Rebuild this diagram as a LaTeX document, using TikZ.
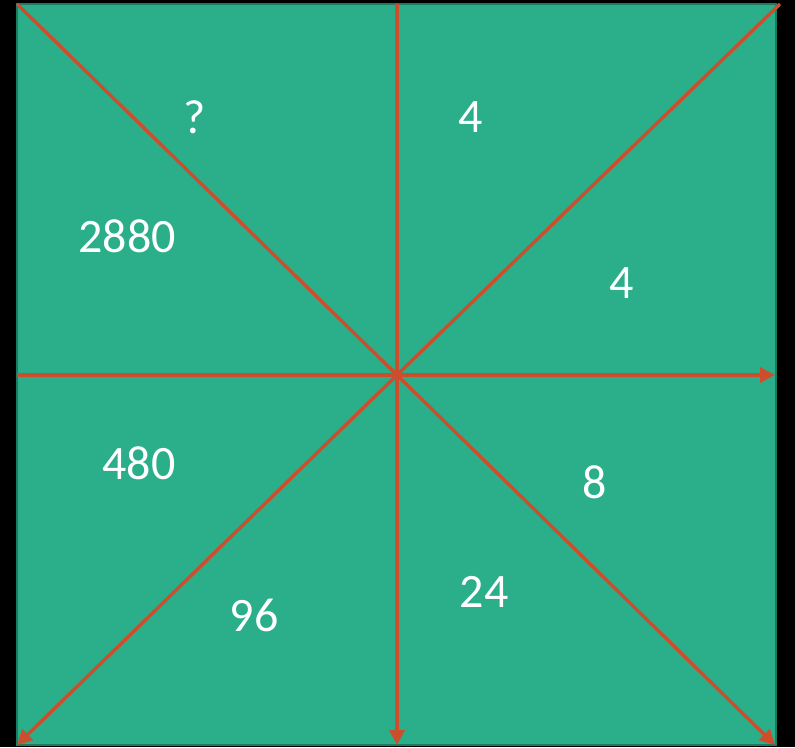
\documentclass[tikz,border=0pt]{standalone}
\usepackage{fontspec}
\setmainfont{Carlito}
\usetikzlibrary{arrows.meta}
\definecolor{boardgreen}{HTML}{2BAE8A}
\definecolor{boardedge}{HTML}{1F7A62}
\definecolor{spokered}{HTML}{CC4E2C}

\begin{document}
\begin{tikzpicture}[
  x=1pt,
  y=-1pt,
  every node/.style={font=\fontsize{48}{54}\selectfont, white},
  board/.style={fill=boardgreen, draw=boardedge, line width=1.2pt},
  spoke/.style={spokered, line width=3.4pt},
  arrowspoke/.style={spoke, -{Triangle[length=15pt, width=15pt]}}
]
  % ---- page and board --------------------------------------------------
  \fill[black] (0,0) rectangle (795,747);
  \useasboundingbox (0,0) rectangle (795,747);
  \draw[board] (17,4) rectangle (776,745);

  % ---- hub and spoke ends ----------------------------------------------
  \coordinate (hub) at (397,375);
  \coordinate (nw) at (17,4);
  \coordinate (n) at (397,4);
  \coordinate (ne) at (780,4);
  \coordinate (e) at (775,375);
  \coordinate (se) at (775,745);
  \coordinate (s) at (397,745);
  \coordinate (sw) at (17,745);
  \coordinate (w) at (17,375);

  % ---- spokes ----------------------------------------------------------
  \draw[spoke] (hub) -- (nw);
  \draw[spoke] (hub) -- (n);
  \draw[spoke] (hub) -- (ne);
  \draw[spoke] (hub) -- (w);
  \draw[arrowspoke] (hub) -- (e);
  \draw[arrowspoke] (hub) -- (se);
  \draw[arrowspoke] (hub) -- (s);
  \draw[arrowspoke] (hub) -- (sw);

  % ---- numbers ---------------------------------------------------------
  \node (unknown) at (195,117) {?};
  \node (four-top) at (471,117) {4};
  \node (big) at (127,236) {2880};
  \node (four-right) at (622,283) {4};
  \node (foureighty) at (139,463) {480};
  \node (eight) at (595,482) {8};
  \node (ninetysix) at (254,615) {96};
  \node (twentyfour) at (484,592) {24};
\end{tikzpicture}
\end{document}
